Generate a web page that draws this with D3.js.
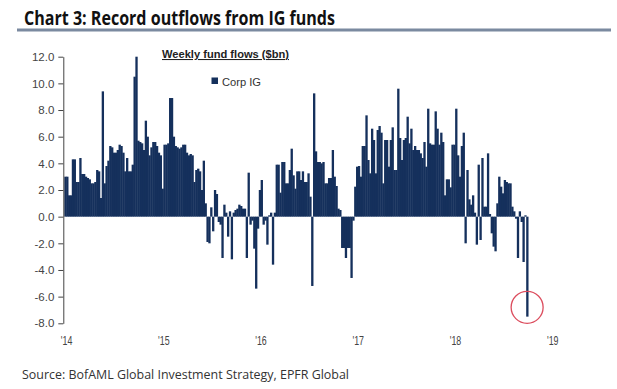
<!DOCTYPE html>
<html><head><meta charset="utf-8">
<script src="https://cdn.jsdelivr.net/npm/d3@7/dist/d3.min.js"></script>
<style>body{margin:0;background:#fff}svg{display:block}</style>
</head><body>
<svg id="c" width="617" height="389"></svg>
<script>
// ---- data (weekly IG fund flows, $bn) ----
const yearLabels = ["'14", "'15", "'16", "'17", "'18", "'19"];
const flows2014 = [3.0, 3.0, 1.6, 1.6, 4.3, 4.3, 2.6, 2.6, 4.4, 3.2, 3.2, 3.0, 2.9, 2.8, 2.5, 2.5, 2.6, 3.5, 3.4, 1.4,
  9.4, 2.5, 3.8, 4.2, 5.3, 5.2, 4.8, 4.8, 5.0, 5.4, 5.3, 4.8, 3.4, 4.4, 3.4, 3.4, 3.9, 10.5, 12.0, 5.7,
  5.6, 5.5, 5.0, 7.2, 6.0, 4.6, 5.2, 5.6, 5.6, 5.3, 4.8, 4.6];
const flows2015 = [2.1, 5.4, 5.4, 5.5, 8.9, 8.9, 6.0, 5.3, 5.2, 5.1, 5.2, 5.4, 5.4, 4.8, 4.6, 4.7, 4.6, 2.6, 3.5, 3.6,
  3.4, 2.0, 4.2, 1.0, -1.9, -2.0, 0.7, -1.1, 2.0, 1.7, -0.4, -0.6, -3.1, 0.9, 0.3, -1.5, 0.4, -3.2, 0.3, 0.5,
  0.6, 0.9, 0.8, 0.6, 0.6, -3.1, 3.3, -0.6, -0.3, -2.4, -5.4, -0.9];
const flows2016 = [2.0, 2.75, -0.6, -0.3, -2.1, 0.1, 0.3, -3.6, 0.3, 3.9, 3.9, 1.8, 4.1, 4.1, 2.5, 2.5, 3.5, 5.1, 3.1, 2.1,
  3.4, 3.4, 2.75, 3.4, 2.6, 2.6, 3.25, 1.5, -5.2, 9.25, 4.9, 4.1, 4.1, 4.0, 4.1, 2.5, 2.5, 2.9, 2.9, 5.0,
  3.0, 2.3, 0.6, 0.5, -2.35, -2.35, -3.1, -2.35, -2.35, -4.6, -0.3, 2.25];
const flows2017 = [3.75, 3.8, 3.0, 5.3, 5.3, 7.6, 4.25, 3.25, 6.6, 5.75, 3.25, 6.5, 6.8, 6.3, 2.5, 5.75, 5.75, 3.75, 5.75, 6.7,
  3.5, 3.5, 9.6, 5.9, 4.25, 5.75, 5.9, 7.5, 5.5, 6.6, 5.0, 5.3, 5.0, 5.0, 4.75, 4.4, 5.6, 3.75, 8.1, 5.5,
  5.4, 5.4, 7.9, 6.6, 5.4, 6.3, 5.6, 1.6, 2.8, 2.8, 2.2, 5.4];
const flows2018 = [5.4, 8.1, 4.6, 3.0, 5.3, 6.3, -2.0, 3.5, 1.3, 0.9, 1.6, 0.3, -2.1, 3.9, -1.75, 4.4, 0.75, 0.75, 4.75, 0.2,
  -1.25, -2.25, -2.6, 1.0, 3.0, 2.25, 1.75, 2.75, 2.6, 2.5, 2.5, 0.75, 0.4, -0.15, -3.1, 0.4, -0.4, -3.4, 0.1, -7.5];
const corpIG = [].concat(flows2014, flows2015, flows2016, flows2017, flows2018);
const weeksPerYear = 52;
const yTicks = [-8, -6, -4, -2, 0, 2, 4, 6, 8, 10, 12];
const seriesName = "Corp IG";
const highlightValue = -6.8;

// ---- layout ----
const svg = d3.select("#c");
const n = corpIG.length;
const x = d3.scaleLinear().domain([0, n]).range([64.3, 64.3 + n * 1.87]);
const y = d3.scaleLinear().domain([-8, 12]).range([323.3, 56.7]);
const step = x(1) - x(0);

// title
svg.append("text").attr("x", 24).attr("y", 25)
  .attr("font-family", "'Open Sans', 'Noto Sans', sans-serif").attr("font-weight", "bold")
  .attr("font-size", 20).attr("fill", "#111")
  .attr("textLength", 311).attr("lengthAdjust", "spacingAndGlyphs")
  .text("Chart 3: Record outflows from IG funds");
svg.append("rect").attr("x", 17).attr("y", 28.5).attr("width", 594).attr("height", 3).attr("fill", "#7b8aa0");

// inner title
svg.append("text").attr("x", 162).attr("y", 58)
  .attr("font-family", "Liberation Sans, Arial, sans-serif").attr("font-weight", "bold")
  .attr("font-size", 10.5).attr("fill", "#222").attr("text-decoration", "underline")
  .attr("textLength", 127).attr("lengthAdjust", "spacingAndGlyphs")
  .text("Weekly  fund flows ($bn)");

// legend
svg.append("rect").attr("x", 211.5).attr("y", 77.5).attr("width", 6.5).attr("height", 6.5).attr("fill", "#15305c");
svg.append("text").attr("x", 222).attr("y", 85.5)
  .attr("font-family", "Liberation Sans, Arial, sans-serif").attr("font-size", 11).attr("fill", "#333")
  .attr("textLength", 39).attr("lengthAdjust", "spacingAndGlyphs")
  .text(seriesName);

// bars
svg.append("g").selectAll("rect").data(corpIG).join("rect")
  .attr("x", (d, i) => x(i))
  .attr("width", step + 0.45)
  .attr("y", d => y(Math.max(0, d)))
  .attr("height", d => Math.abs(y(d) - y(0)))
  .attr("fill", "#15305c");

// y axis
const ya = svg.append("g").attr("transform", "translate(63.3,0)")
  .call(d3.axisLeft(y).tickValues(yTicks).tickFormat(d => d.toFixed(1)).tickSize(5).tickSizeOuter(0).tickPadding(4));
ya.selectAll("path,line").attr("stroke", "#444");
ya.selectAll("text").attr("font-family", "Liberation Sans, Arial, sans-serif").attr("font-size", 11.5).attr("fill", "#444");

// x axis (year labels)
const xa = svg.append("g").attr("transform", "translate(0,323.3)")
  .call(d3.axisBottom(x).tickValues(yearLabels.map((d, i) => i * weeksPerYear))
    .tickFormat((d, i) => yearLabels[i]).tickSize(0).tickPadding(12));
xa.select(".domain").remove();
xa.selectAll("text").attr("text-anchor", "start").attr("dx", -4)
  .attr("font-family", "Liberation Sans, Arial, sans-serif").attr("font-size", 13).attr("fill", "#444")
  .attr("textLength", 11.5).attr("lengthAdjust", "spacingAndGlyphs");

// highlight circle on latest week
svg.append("circle").attr("cx", x(n - 0.5)).attr("cy", y(highlightValue)).attr("r", 16)
  .attr("fill", "none").attr("stroke", "#dc4d5e").attr("stroke-width", 1.3);

// source
svg.append("text").attr("x", 22).attr("y", 379)
  .attr("font-family", "'Open Sans', 'Noto Sans', sans-serif").attr("font-size", 12.5).attr("fill", "#333")
  .attr("textLength", 327).attr("lengthAdjust", "spacingAndGlyphs")
  .text("Source:  BofAML Global Investment Strategy, EPFR Global");
</script>
</body></html>
